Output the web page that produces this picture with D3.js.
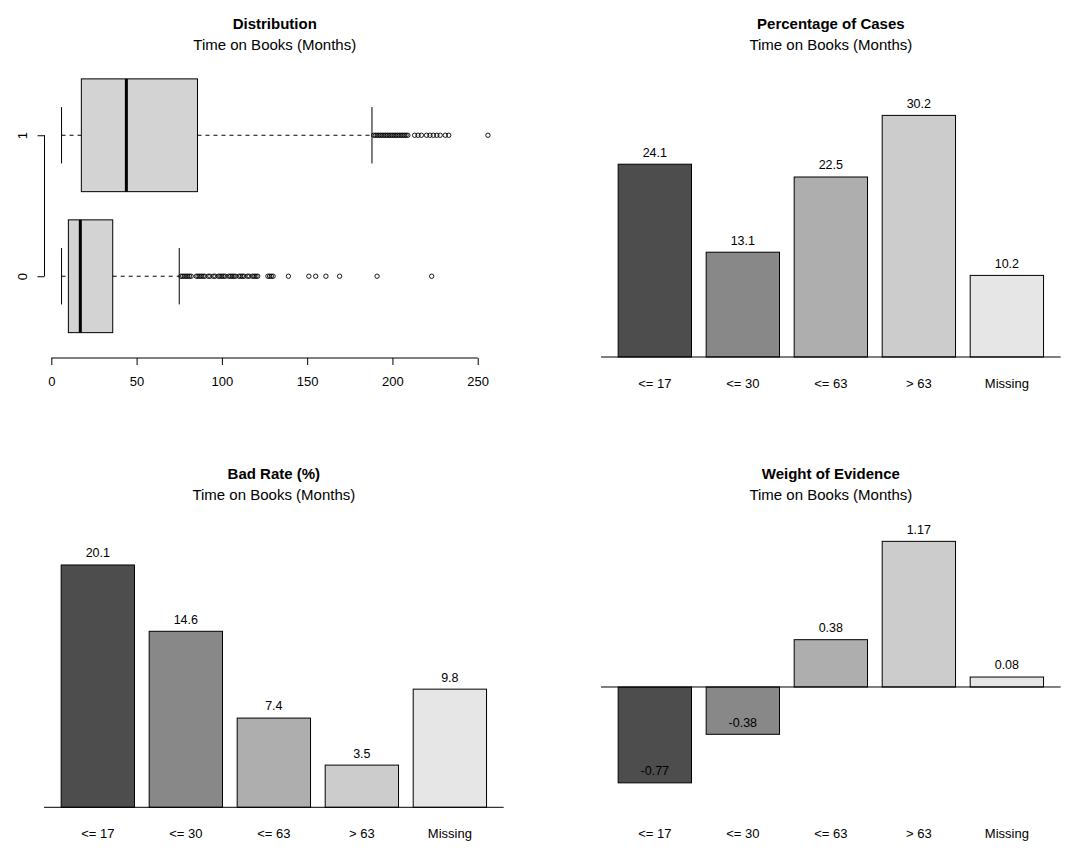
<!DOCTYPE html>
<html>
<head>
<meta charset="utf-8">
<script src="https://cdn.jsdelivr.net/npm/d3@7"></script>
<style>
  html, body { margin: 0; padding: 0; background: #fff; }
  svg { display: block; font-family: "Liberation Sans", Arial, sans-serif; }
</style>
</head>
<body>
<svg id="chart" width="1083" height="854"></svg>
<script>
// ---------- DATA ----------
const subtitle = "Time on Books (Months)";
const panelTitles = ["Distribution", "Percentage of Cases", "Bad Rate (%)", "Weight of Evidence"];
const categories = ["<= 17", "<= 30", "<= 63", "> 63", "Missing"];
const pctCases = [24.1, 13.1, 22.5, 30.2, 10.2];
const badRate = [20.1, 14.6, 7.4, 3.5, 9.8];
const woe = [-0.77, -0.38, 0.38, 1.17, 0.08];
const barColors = ["#4D4D4D", "#888888", "#AEAEAE", "#CCCCCC", "#E6E6E6"];

// boxplot groups (label, five-number stats, outliers)
const boxGroups = ["0", "1"];
const boxStats = [
  [6, 10, 17, 36, 75],
  [6, 17.6, 44, 85.7, 188]
];
const outliers0 = [76, 77, 78, 79, 80, 81, 82, 85, 86, 87, 88, 89, 90, 92, 93, 95, 96, 98, 99, 100,
  101, 102, 104, 105, 106, 107, 108, 110, 111, 112, 113, 115, 116, 118, 119, 120, 121,
  127, 128, 129, 130, 139, 151, 155, 161, 169, 191, 223];
const outliers1 = [189, 190, 191, 192, 193, 194, 195, 196, 197, 198, 199, 200, 201, 202, 203, 204,
  205, 206, 207, 208, 209, 213, 215, 217, 220, 222, 224, 226, 228, 231, 233, 256];
const boxOutliers = [outliers0, outliers1];
const boxTicks = [0, 50, 100, 150, 200, 250];

// ---------- DRAW ----------
const svg = d3.select("#chart");

function titles(cx, yTop, title) {
  svg.append("text").attr("x", cx).attr("y", yTop)
    .attr("text-anchor", "middle").attr("font-weight", "bold").attr("font-size", 15)
    .text(title);
  svg.append("text").attr("x", cx).attr("y", yTop + 21)
    .attr("text-anchor", "middle").attr("font-size", 15)
    .text(subtitle);
}

// ---- Panel 1: boxplot ----
(function () {
  const x = d3.scaleLinear().domain([-4, 266]).range([44.5, 505]);
  const y = d3.scaleLinear().domain([0.42, 2.58]).range([358, 53.5]);
  const g = svg.append("g");
  titles((x.range()[0] + x.range()[1]) / 2, 29, panelTitles[0]);

  boxStats.forEach((s, i) => {
    const pos = i + 1;
    const cy = y(pos);
    const hb = y(pos - 0.4) - cy;   // box half height
    const hc = y(pos - 0.2) - cy;   // cap half height
    // whiskers (dashed)
    g.append("line").attr("x1", x(s[0])).attr("x2", x(s[1])).attr("y1", cy).attr("y2", cy)
      .attr("stroke", "#000").attr("stroke-dasharray", "4,4");
    g.append("line").attr("x1", x(s[3])).attr("x2", x(s[4])).attr("y1", cy).attr("y2", cy)
      .attr("stroke", "#000").attr("stroke-dasharray", "4,4");
    // caps
    [s[0], s[4]].forEach(v => {
      g.append("line").attr("x1", x(v)).attr("x2", x(v)).attr("y1", cy - hc).attr("y2", cy + hc)
        .attr("stroke", "#000");
    });
    // box
    g.append("rect").attr("x", x(s[1])).attr("y", cy - hb)
      .attr("width", x(s[3]) - x(s[1])).attr("height", 2 * hb)
      .attr("fill", "#D3D3D3").attr("stroke", "#000");
    // median
    g.append("line").attr("x1", x(s[2])).attr("x2", x(s[2])).attr("y1", cy - hb).attr("y2", cy + hb)
      .attr("stroke", "#000").attr("stroke-width", 3);
    // outliers
    g.selectAll(null).data(boxOutliers[i]).enter().append("circle")
      .attr("cx", d => x(d)).attr("cy", cy).attr("r", 2.2)
      .attr("fill", "none").attr("stroke", "#000").attr("stroke-width", 0.9);
  });

  // bottom axis
  const ax = g.append("g").attr("transform", "translate(0,358)")
    .call(d3.axisBottom(x).tickValues(boxTicks).tickSize(7).tickPadding(12).tickSizeOuter(0));
  ax.select(".domain").remove();
  ax.append("line").attr("x1", x(boxTicks[0])).attr("x2", x(boxTicks[boxTicks.length - 1]))
    .attr("stroke", "#000");
  ax.selectAll("text").attr("font-size", 13).attr("fill", "#000").attr("font-family", null);
  ax.selectAll(".tick line").attr("stroke", "#000");

  // left axis
  const ay = g.append("g").attr("transform", "translate(44.5,0)")
    .call(d3.axisLeft(y).tickValues([1, 2]).tickFormat((d, i) => boxGroups[i]).tickSize(7).tickSizeOuter(0));
  ay.select(".domain").remove();
  ay.append("line").attr("y1", y(1)).attr("y2", y(2)).attr("stroke", "#000");
  ay.selectAll(".tick line").attr("stroke", "#000");
  ay.selectAll("text").attr("font-size", 13).attr("fill", "#000").attr("font-family", null)
    .attr("x", null).attr("dy", null).attr("text-anchor", "middle")
    .attr("transform", "translate(-18,0) rotate(-90)");
})();

// ---- Bar panels ----
function barPanel(values, xr, yDomain, yr, titleTop, catY) {
  const x = d3.scaleBand().domain(categories).range(xr).paddingInner(1 / 6).paddingOuter(0.195);
  const y = d3.scaleLinear().domain(yDomain).range(yr);
  const g = svg.append("g");
  titles((xr[0] + xr[1]) / 2, titleTop, panelTitles[0] && titleTop);
  return { x, y, g };
}

function drawBars(values, xr, yDomain, yr, title, titleTop, catY, fmt) {
  const x = d3.scaleBand().domain(categories).range(xr).paddingInner(1 / 6).paddingOuter(0.195);
  const y = d3.scaleLinear().domain(yDomain).range(yr);
  const g = svg.append("g");
  titles((xr[0] + xr[1]) / 2, titleTop, title);
  const data = categories.map((c, i) => ({ c, v: values[i], col: barColors[i] }));
  g.selectAll("rect.bar").data(data).enter().append("rect").attr("class", "bar")
    .attr("x", d => x(d.c)).attr("width", x.bandwidth())
    .attr("y", d => Math.min(y(d.v), y(0)))
    .attr("height", d => Math.abs(y(d.v) - y(0)))
    .attr("fill", d => d.col).attr("stroke", "#000");
  g.append("line").attr("x1", xr[0]).attr("x2", xr[1]).attr("y1", y(0)).attr("y2", y(0))
    .attr("stroke", "#000");
  g.selectAll("text.val").data(data).enter().append("text").attr("class", "val")
    .attr("x", d => x(d.c) + x.bandwidth() / 2).attr("y", d => y(d.v) - 7.6)
    .attr("text-anchor", "middle").attr("font-size", 12.5)
    .text(d => fmt(d.v));
  g.selectAll("text.cat").data(data).enter().append("text").attr("class", "cat")
    .attr("x", d => x(d.c) + x.bandwidth() / 2).attr("y", catY)
    .attr("text-anchor", "middle").attr("font-size", 13)
    .text(d => d.c);
}

drawBars(pctCases, [601, 1060.7], [0, 38], [357, 53], panelTitles[1], 29, 387.5, d => d.toFixed(1));
drawBars(badRate, [44, 503.7], [0, 25.2], [807.3, 503.5], panelTitles[2], 479, 837.5, d => d.toFixed(1));
drawBars(woe, [601, 1060.7], [-0.972, 1.474], [808, 503.5], panelTitles[3], 479, 837.5, d => d.toFixed(2));
</script>
</body>
</html>
